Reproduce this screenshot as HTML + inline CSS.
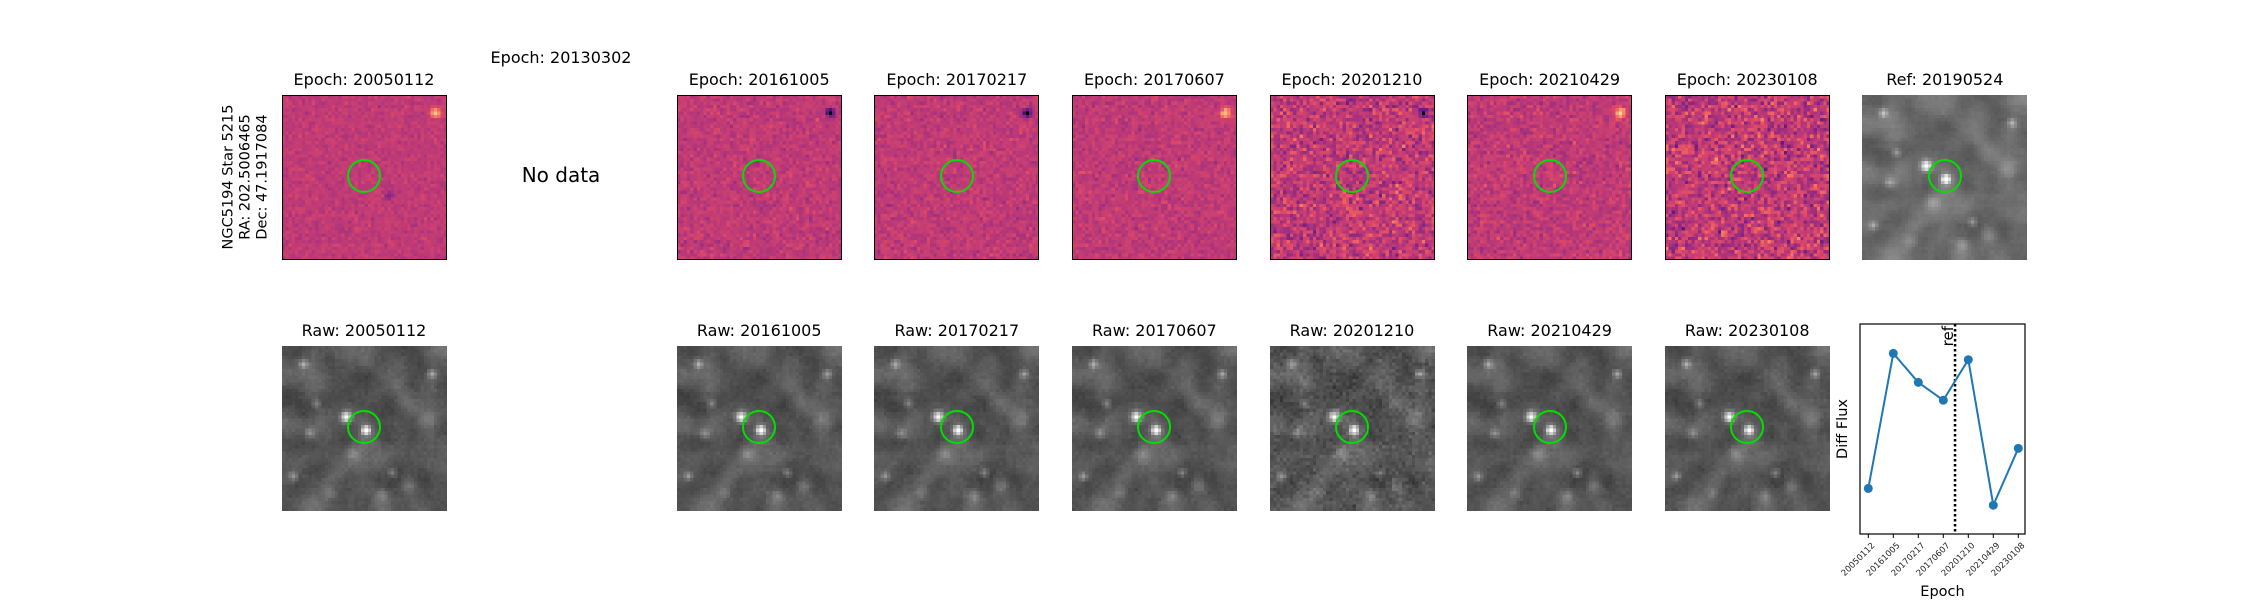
<!DOCTYPE html>
<html><head><meta charset="utf-8">
<style>
body{margin:0;background:#fff;width:2250px;height:600px;overflow:hidden;position:relative;font-family:"DejaVu Sans","Liberation Sans",sans-serif;color:#000}
.t{position:absolute;font-size:16px;white-space:nowrap;transform:translateX(-50%)}
canvas{position:absolute;image-rendering:pixelated}
.frame{position:absolute;border:1.5px solid #000;box-sizing:border-box;pointer-events:none}
.circ{position:absolute;width:34px;height:34px;border:2px solid #00e000;border-radius:50%;box-sizing:border-box}
</style></head><body>
<div id="root"></div>
<div style="position:absolute;left:246px;top:177px;transform:translate(-50%,-50%) rotate(-90deg);font-size:14.5px;line-height:17px;text-align:center;white-space:nowrap">NGC5194 Star 5215<br>RA: 202.5006465<br>Dec: 47.1917084</div>
<div class="t" style="left:561px;top:48px">Epoch: 20130302</div>
<div style="position:absolute;left:561px;top:175px;transform:translate(-50%,-50%);font-size:20px">No data</div>
<svg id="lc" width="2250" height="600" style="position:absolute;left:0;top:0"></svg>
<script>
const epochs=["20050112","20161005","20170217","20170607","20201210","20210429","20230108"];
const diffFlux=[0.217,0.860,0.722,0.637,0.830,0.137,0.408];
const refIndex=3.47;
const cols=[0,2,3,4,5,6,7];
const noise=[0.035,0.045,0.045,0.045,0.1,0.055,0.11];
const X0=281.5,STEP=197.6,W=165,TOP1=95,TOP2=346;
let seed=7;function rnd(){seed=(seed*16807)%2147483647;return seed/2147483647;}
function gauss(){return (rnd()+rnd()+rnd()+rnd()-2)*0.87;}
const mag=[[0,0,4],[40,11,84],[101,26,128],[140,41,129],[183,55,121],[222,73,104],[247,112,92],[254,159,109],[254,194,135],[252,253,191]];
function magma(v){v=Math.max(0,Math.min(1,v))*9;const i=Math.min(8,Math.floor(v)),f=v-i;return mag[i].map((c,k)=>Math.round(c+(mag[i+1][k]-c)*f));}
const N=50;
const stars=[[25,25,0.75,0.9],[19,21,0.65,1.1],[6,5,0.3,0.9],[45,8,0.3,0.9],[10,17,0.22,0.9],[8,26,0.22,1],[3,39,0.25,0.9],[33,38,0.25,0.9],[21,32,0.18,1.6],[38,42,0.14,1.6],[44,22,0.14,2],[14,44,0.14,1.3],[30,45,0.14,1.3]];
const base=[];for(let i=0;i<N*N;i++)base.push(rnd());
function smooth(a){const o=[];for(let y=0;y<N;y++)for(let x=0;x<N;x++){let s=0,c=0;for(let dy=-2;dy<=2;dy++)for(let dx=-2;dx<=2;dx++){const xx=x+dx,yy=y+dy;if(xx>=0&&yy>=0&&xx<N&&yy<N){s+=a[yy*N+xx];c++;}}o.push(s/c);}return o;}
const low=smooth(smooth(base));
function rawVal(x,y,n){let v=0.33+(low[y*N+x]-0.5)*0.9+n*gauss();for(const s of stars){const d=(x-s[0])**2+(y-s[1])**2;v+=s[2]*Math.exp(-d/(2*s[3]*s[3]));}return v;}
function mk(x,y,name,title){
 const c=document.createElement('canvas');c.width=N;c.height=N;c.style.left=x+'px';c.style.top=y+'px';c.style.width=W+'px';c.style.height=W+'px';
 
 
 document.body.appendChild(c);
 const t=document.createElement('div');t.className='t';t.textContent=title;t.style.left=(x+W/2)+'px';t.style.top=(y-25)+'px';
 
 
 document.body.appendChild(t);
 const ci=document.createElement('div');ci.className='circ';ci.style.left=(x+82.5-17)+'px';ci.style.top=(y+81-17)+'px';
 
 
 document.body.appendChild(ci);
 return c.getContext('2d');
}
function fill(ctx,f){const im=ctx.createImageData(N,N);for(let y=0;y<N;y++)for(let x=0;x<N;x++){const c=f(x,y),i=(y*N+x)*4;im.data[i]=c[0];im.data[i+1]=c[1];im.data[i+2]=c[2];im.data[i+3]=255;}ctx.putImageData(im,0,0);}
epochs.forEach((e,k)=>{
 const x=X0+cols[k]*STEP;
 const d=mk(x,TOP1,'diff-image-'+e,'Epoch: '+e);
 fill(d,(xx,yy)=>{let v=0.47+noise[k]*gauss()*1.6;const dd=(xx-46)**2+(yy-5)**2;v+=(k==0||k==3||k==5?0.45:0)*Math.exp(-dd/2);if(k==1||k==2||k==4)v-=0.5*Math.exp(-dd/1.5);if(k==0)v-=0.15*Math.exp(-((xx-32)**2+(yy-30)**2)/2);return magma(v);});
 const fr=document.createElement('div');fr.className='frame';fr.style.left=x+'px';fr.style.top=TOP1+'px';fr.style.width=W+'px';fr.style.height=W+'px';
 
 
 document.body.appendChild(fr);
 const r=mk(x,TOP2,'raw-image-'+e,'Raw: '+e);
 const nz=(k==4)?0.06:0.025;
 fill(r,(xx,yy)=>{const g=Math.round(Math.max(0,Math.min(1,rawVal(xx,yy,nz)))*255);return [g,g,g];});
});
const rx=X0+8*STEP;
const rf=mk(rx,TOP1,'ref-image','Ref: 20190524');
fill(rf,(xx,yy)=>{const g=Math.round(Math.max(0,Math.min(1,rawVal(xx,yy,0.015)+0.08))*255);return [g,g,g];});
const svg=document.getElementById('lc'),NS='http://www.w3.org/2000/svg';
const AX0=1860,AX1=2025,AY0=324,AY1=534;
const xs=i=>1868.3+i*25,ys=v=>AY1-v*(AY1-AY0);
function el(tag,at,name){const e=document.createElementNS(NS,tag);for(const k in at)e.setAttribute(k,at[k]);
 svg.appendChild(e);return e;}
el('rect',{x:AX0,y:AY0,width:AX1-AX0,height:AY1-AY0,fill:'#fff',stroke:'#000','stroke-width':1.2},'plot-area');
const rxl=xs(refIndex);
el('line',{x1:rxl,x2:rxl,y1:AY0,y2:AY1,stroke:'#000','stroke-width':2.5,'stroke-dasharray':'2.5,2.5'},'ref-line');
const rt=el('text',{x:0,y:0,transform:`translate(${rxl-2},${AY0+2}) rotate(-90)`,'font-size':15,'text-anchor':'end','font-family':'DejaVu Sans'},'ref-label');rt.textContent='ref';
el('polyline',{points:diffFlux.map((v,i)=>xs(i)+','+ys(v)).join(' '),fill:'none',stroke:'#1f77b4','stroke-width':2},'flux-line');
diffFlux.forEach((v,i)=>{el('circle',{cx:xs(i),cy:ys(v),r:4.5,fill:'#1f77b4'},'flux-point-'+epochs[i]);
 el('line',{x1:xs(i),x2:xs(i),y1:AY1,y2:AY1+4,stroke:'#000'},'x-tick');
 const t=el('text',{x:0,y:0,transform:`translate(${xs(i)+3},${AY1+8}) rotate(-45)`,'font-size':8.5,'text-anchor':'end','dominant-baseline':'hanging','font-family':'DejaVu Sans',fill:'#222'},'x-tick-label');t.textContent=epochs[i];});
const xl=el('text',{x:(AX0+AX1)/2,y:596,'font-size':14.5,'text-anchor':'middle','font-family':'DejaVu Sans'},'x-axis-title');xl.textContent='Epoch';
const yl=el('text',{x:0,y:0,transform:`translate(1847,${(AY0+AY1)/2}) rotate(-90)`,'font-size':14.5,'text-anchor':'middle','font-family':'DejaVu Sans'},'y-axis-title');yl.textContent='Diff Flux';
</script>
</body></html>
